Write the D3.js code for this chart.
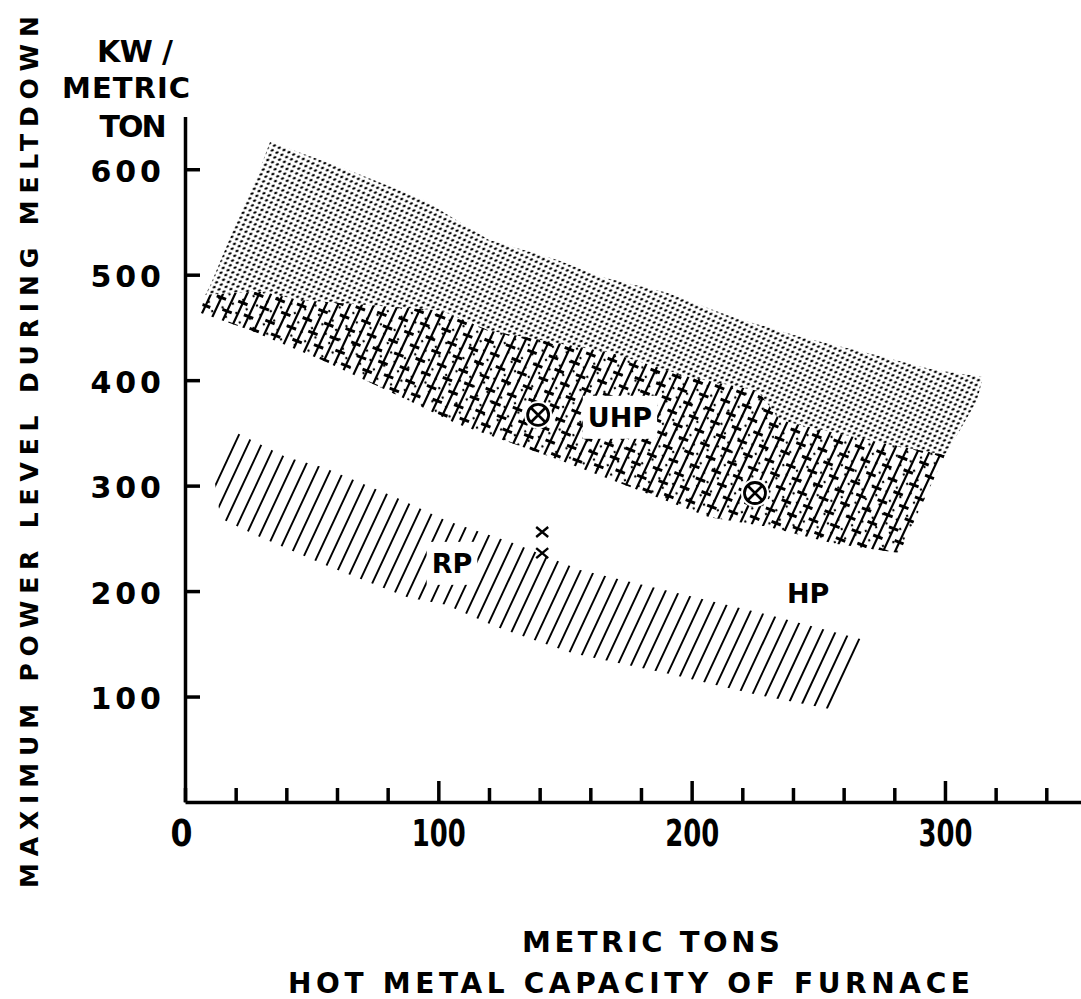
<!DOCTYPE html>
<html>
<head>
<meta charset="utf-8">
<script src="https://cdn.jsdelivr.net/npm/d3@7"></script>
<style>
	body { margin: 0; background: #fff; }
	svg text { font-family: "DejaVu Sans", sans-serif; font-weight: bold; fill: #000; }
</style>
</head>
<body>
<div id="chart"></div>
<script>
// axis ticks
var xTicks = [0, 20, 40, 60, 80, 100, 120, 140, 160, 180, 200, 220, 240, 260, 280, 300, 320, 340];
var xTickLabels = [0, 100, 200, 300];
var yTicks = [100, 200, 300, 400, 500, 600];

// UHP stippled band, [tons, kW/t]
var uhpTop = [[33.6, 626], [68, 596], [94, 571], [120, 533], [147, 514], [164, 498], [190, 483],
	[216, 460], [243, 441], [269, 426], [295, 410], [315, 403]];
var uhpRight = [[312.7, 381], [306, 353]];
var uhpLeft = [[10, 490], [19, 542], [28, 590]];

// cross-hatched band (lower part of UHP)
var hatchTop = [[8, 481], [30, 484], [45, 476], [101, 466], [120, 447], [168, 426], [199, 403],
	[226, 390], [235, 362], [251, 353], [276, 340], [300, 329]];
var hatchBottom = [[6, 464], [26, 447], [54, 419], [88, 381], [107, 359], [148, 324], [207, 270],
	[230, 261], [256, 245], [282, 236]];

// RP hatched band
var rpTop = [[11, 315], [20.5, 350], [40, 327], [54.5, 317.5], [84, 288], [103, 267], [129.5, 245.5],
	[156, 220], [193, 199], [231, 177], [270, 152.5]];
var rpBottom = [[14, 269], [28, 253], [57, 223], [88, 194], [103, 187], [123, 166], [153, 141],
	[190, 122], [227, 101], [257, 87]];

// single furnaces
var circledPoints = [[139.4, 367], [225, 293]];
var crossPoints = [[141, 256], [141, 236]];

var regionNames = ['UHP', 'RP', 'HP'];
var regionAt = [[171.7, 365], [105.4, 226.5], [246, 198]];

var W = 1081, H = 999;

var svg = d3.select('#chart').append('svg')
	.attr('width', W)
	.attr('height', H);

var x = d3.scaleLinear().domain([0, 353.7]).range([185, 1081]);
var y = d3.scaleLinear().domain([0, 650]).range([802, 116.5]);

var line = d3.line()
	.x(function(d) { return x(d[0]); })
	.y(function(d) { return y(d[1]); });

function shape(pts) {
	return line(pts) + 'Z';
}

var defs = svg.append('defs');

// stipple pattern
var dots = defs.append('pattern')
	.attr('id', 'dots')
	.attr('patternUnits', 'userSpaceOnUse')
	.attr('width', 7.5).attr('height', 7.5)
	.attr('patternTransform', 'rotate(-20)');
dots.append('ellipse').attr('cx', 1.9).attr('cy', 1.9).attr('rx', 1.7).attr('ry', 1.1).style('fill', '#000');
dots.append('ellipse').attr('cx', 5.6).attr('cy', 5.6).attr('rx', 1.7).attr('ry', 1.1).style('fill', '#000');

var sparse = defs.append('pattern')
	.attr('id', 'sparse')
	.attr('patternUnits', 'userSpaceOnUse')
	.attr('width', 11).attr('height', 10)
	.attr('patternTransform', 'rotate(-20)');
sparse.append('circle').attr('cx', 5).attr('cy', 5).attr('r', 1.2).style('fill', '#000');

// slanted hatch "/" clipped to a band; ticks = little cross bars on each line
var ang = 65 * Math.PI / 180;
var ux = Math.cos(ang), uy = -Math.sin(ang);
function hatch(id, pts, step, ticks, sw) {
	var d = shape(pts);
	defs.append('clipPath').attr('id', id).append('path').attr('d', d);
	var px = pts.map(function(p) { return x(p[0]); });
	var py = pts.map(function(p) { return y(p[1]); });
	var x0 = d3.min(px), x1 = d3.max(px), y0 = d3.min(py), y1 = d3.max(py);
	var h = y1 - y0, run = h / Math.tan(ang);
	var g = svg.append('g').attr('clip-path', 'url(#' + id + ')');
	var starts = d3.range(x0 - run, x1 + step, step);
	g.selectAll('line').data(starts).enter().append('line')
		.attr('x1', function(a) { return a; })
		.attr('y1', y1)
		.attr('x2', function(a) { return a + run; })
		.attr('y2', y0)
		.style('stroke', '#000')
		.style('stroke-width', sw);
	if (!ticks) return;
	var len = h / Math.sin(ang);
	var bars = [];
	starts.forEach(function(a, i) {
		for (var t = (i * 9) % 24; t < len; t += 24) {
			bars.push([a + ux * t, y1 + uy * t]);
		}
	});
	g.selectAll('path.bar').data(bars).enter().append('path')
		.attr('class', 'bar')
		.attr('d', function(b) {
			return 'M' + (b[0] - 5 * 0.93) + ',' + (b[1] - 5 * 0.36) +
				'L' + (b[0] + 5 * 0.93) + ',' + (b[1] + 5 * 0.36);
		})
		.style('stroke', '#000')
		.style('stroke-width', 3);
}

// bands
svg.append('path')
	.attr('d', shape(uhpTop.concat(uhpRight, hatchTop.slice().reverse(), uhpLeft)))
	.style('fill', 'url(#dots)');

var hatchPoly = hatchTop.concat(hatchBottom.slice().reverse());
svg.append('path').attr('d', shape(hatchPoly)).style('fill', 'url(#sparse)');
hatch('clipCross', hatchPoly, 12, true, 2.2);
hatch('clipRp', rpTop.concat(rpBottom.slice().reverse()), 13.5, false, 1.9);

// labels in the bands, cleared behind
var labels = svg.append('g');
regionNames.forEach(function(name, i) {
	var t = labels.append('text')
		.attr('x', x(regionAt[i][0]))
		.attr('y', y(regionAt[i][1]))
		.attr('dy', '0.36em')
		.attr('text-anchor', 'middle')
		.style('font-size', '27px')
		.text(name);
	if (name != 'HP') {
		var b = t.node().getBBox();
		labels.insert('rect', 'text')
			.attr('x', b.x - 5).attr('y', b.y - 6)
			.attr('width', b.width + 10).attr('height', b.height + 12)
			.style('fill', '#fff');
	}
});

svg.selectAll('.circ').data(circledPoints)
	.enter().append('g')
	.attr('transform', function(d) { return 'translate(' + x(d[0]) + ',' + y(d[1]) + ')'; })
	.each(function() {
		var g = d3.select(this);
		g.append('circle').attr('r', 14).style('fill', '#fff');
		g.append('circle').attr('r', 10.5).style('fill', 'none').style('stroke', '#000').style('stroke-width', 2.8);
		g.append('path').attr('d', 'M-7,-7L7,7M7,-7L-7,7').style('stroke', '#000').style('stroke-width', 2.6);
	});

svg.selectAll('.xmark').data(crossPoints)
	.enter().append('path')
	.attr('d', function(d) {
		var cx = x(d[0]), cy = y(d[1]);
		return 'M' + (cx - 6) + ',' + (cy - 5) + 'L' + (cx + 6) + ',' + (cy + 5) +
			'M' + (cx + 6) + ',' + (cy - 5) + 'L' + (cx - 6) + ',' + (cy + 5);
	})
	.style('stroke', '#000')
	.style('stroke-width', 2.4);

// axes
var yaxis = d3.axisLeft(y).tickValues(yTicks).tickSizeInner(-15).tickSizeOuter(0).tickPadding(20);
var yguide = svg.append('g').attr('transform', 'translate(' + x(0) + ',0)');
yaxis(yguide);
yguide.select('.domain').style('stroke', '#000').style('stroke-width', 3.5);
yguide.selectAll('line').style('stroke', '#000').style('stroke-width', 3.5);
yguide.selectAll('text')
	.style('font-family', '"DejaVu Sans", sans-serif')
	.style('font-weight', 'bold')
	.style('font-size', '30px')
	.style('letter-spacing', '4px')
	.attr('dy', '0.4em');

var xaxis = d3.axisBottom(x).tickValues(xTicks).tickSizeInner(-14).tickSizeOuter(0).tickPadding(18)
	.tickFormat(function(d) { return xTickLabels.indexOf(d) >= 0 ? d : ''; });
var xguide = svg.append('g').attr('transform', 'translate(0,' + y(0) + ')');
xaxis(xguide);
xguide.select('.domain').style('stroke', '#000').style('stroke-width', 3.5);
xguide.selectAll('line').style('stroke', '#000').style('stroke-width', 3.5);
xguide.selectAll('.tick').filter(function(d) { return xTickLabels.indexOf(d) > 0; })
	.select('line').attr('y2', -21);
xguide.selectAll('text')
	.style('font-family', '"DejaVu Sans", sans-serif')
	.style('font-weight', 'bold')
	.style('font-size', '37px')
	.attr('dy', '0.71em')
	.attr('lengthAdjust', 'spacingAndGlyphs')
	.attr('textLength', function(d) { return String(d).length == 1 ? 22 : 54; });
xguide.selectAll('.tick').filter(function(d) { return d === 0; })
	.select('text').attr('x', -4);

// titles
function title(str, cx, cy, len, size) {
	svg.append('text')
		.attr('x', cx).attr('y', cy)
		.attr('text-anchor', 'middle')
		.attr('textLength', len)
		.attr('lengthAdjust', 'spacing')
		.style('font-size', size + 'px')
		.text(str);
}
title('KW /', 135, 62, 76, 30);
title('METRIC', 126, 98, 128, 29);
title('TON', 133, 137, 67, 30);
title('METRIC TONS', 651, 952, 258, 29);
title('HOT METAL CAPACITY OF FURNACE', 629, 993, 682, 28);

svg.append('text')
	.attr('transform', 'translate(38,452) rotate(-90)')
	.attr('text-anchor', 'middle')
	.attr('textLength', 872)
	.attr('lengthAdjust', 'spacing')
	.style('font-size', '25px')
	.text('MAXIMUM POWER LEVEL DURING MELTDOWN');
</script>
</body>
</html>
